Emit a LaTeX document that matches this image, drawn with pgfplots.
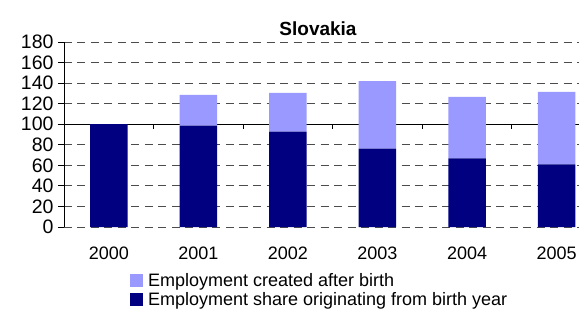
\documentclass[border=0pt]{standalone}
\usepackage{pgfplots}
\pgfplotsset{compat=1.18}
\usepackage{fontspec}
\setmainfont{Liberation Sans}
\definecolor{navy}{RGB}{0,0,128}
\definecolor{lav}{RGB}{153,153,255}
\begin{document}
\begin{tikzpicture}
\begin{axis}[name=ax,
 scale only axis, width=515pt, height=185pt,
 ybar stacked, bar width=37.5pt,
 xmin=-0.5, xmax=5.25, ymin=0, ymax=180,
 xtick={0,1,2,3,4,5}, xticklabels={2000,2001,2002,2003,2004,2005},
 ytick={0,20,...,180},
 axis x line*=bottom, axis y line*=left,
 x axis line style={draw=none},
 y axis line style={black, line width=0.8pt, -},
 xtick style={draw=none},
 ytick style={black, line width=0.8pt},
 tick align=outside, major tick length=6pt,
 ymajorgrids, grid style={black!70, dash pattern=on 8pt off 5.5pt, line width=0.8pt},
 extra y ticks={100}, extra y tick labels={},
 extra y tick style={major grid style={solid, black, line width=0.8pt}},
 /pgf/number format/assume math mode=true,
 tick label style={font=\fontsize{18}{20}\selectfont},
 xticklabel style={yshift=-10pt},
 yticklabel style={xshift=-1pt, font=\fontsize{19.5}{20}\selectfont},
 title={Slovakia},
 title style={font=\bfseries\fontsize{19}{20}\selectfont, at={(0.5,1)}, anchor=base, yshift=1pt, xshift=-3.5pt},
 legend style={at={(axis description cs:0.122,-0.235)}, anchor=north west, draw=none, fill=none,
   font=\fontsize{18}{20}\selectfont, nodes={inner sep=1pt}, column sep=4pt, row sep=2.5pt},
 legend cell align=left, reverse legend,
]
\addplot[fill=navy, draw=none, legend image code/.code={\fill[navy] (0pt,-6.5pt) rectangle (13pt,6.5pt);}]
 coordinates {(0,100) (1,98.6) (2,92.7) (3,76.3) (4,66.7) (5,60.9)};
\addplot[fill=lav, draw=none, legend image code/.code={\fill[lav] (0pt,-6.5pt) rectangle (13pt,6.5pt);}]
 coordinates {(0,0) (1,29.9) (2,37.7) (3,65.7) (4,59.9) (5,70.5)};
\legend{Employment share originating from birth year, Employment created after birth}
\pgfplotsinvokeforeach{0.5,1.5,2.5,3.5,4.5}{\draw[black, line width=0.8pt] (axis cs:#1,100) -- (axis cs:#1,95.2);}
\end{axis}
\pgfresetboundingbox
\path ([xshift=-64pt,yshift=-84pt]ax.south west) rectangle ([xshift=515pt,yshift=227pt]ax.south west);
\end{tikzpicture}
\end{document}
